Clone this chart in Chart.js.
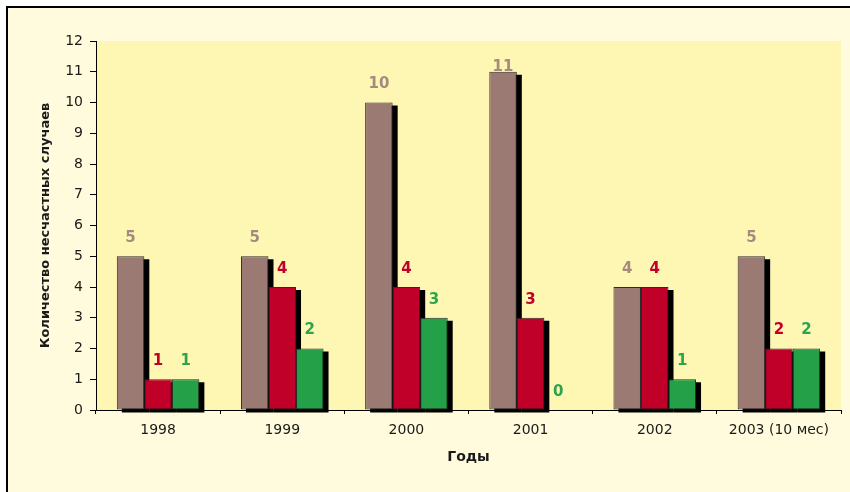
<!DOCTYPE html>
<html>
<head>
<meta charset="utf-8">
<script src="https://cdn.jsdelivr.net/npm/chart.js@4.4.0/dist/chart.umd.min.js"></script>
<style>
  html, body { margin: 0; padding: 0; background: #fff; }
  #chart { display: block; }
</style>
</head>
<body>
<canvas id="chart" width="850" height="492"></canvas>
<script>
// данные
const years = ["1998", "1999", "2000", "2001", "2002", "2003 (10 мес)"];
const seriesBrown = [5, 5, 10, 11, 4, 5];
const seriesRed = [1, 4, 4, 3, 4, 2];
const seriesGreen = [1, 2, 3, 0, 1, 2];
const yMin = 0, yMax = 12, yStep = 1;

const family = "'DejaVu Sans', Arial, sans-serif";

// фон, рамка и область построения
const background = {
  id: 'background',
  beforeDraw(chart) {
    const {ctx, width, height, chartArea: a} = chart;
    ctx.save();
    ctx.fillStyle = '#ffffff';
    ctx.fillRect(0, 0, width, height);
    ctx.fillStyle = '#fffbdc';
    ctx.fillRect(8, 8, width - 8, height - 8);
    ctx.strokeStyle = '#000';
    ctx.lineWidth = 2;
    ctx.beginPath();
    ctx.moveTo(7, height);
    ctx.lineTo(7, 7);
    ctx.lineTo(width, 7);
    ctx.stroke();
    ctx.fillStyle = '#fef7b4';
    ctx.fillRect(a.left, a.top, a.right - a.left, a.bottom - a.top);
    ctx.restore();
  }
};

// тени у столбиков
const barShadow = {
  id: 'barShadow',
  beforeDatasetsDraw(chart) {
    const ctx = chart.ctx;
    ctx.save();
    ctx.fillStyle = '#000';
    chart.data.datasets.forEach((ds, i) => {
      chart.getDatasetMeta(i).data.forEach(bar => {
        const {x, y, base, width} = bar.getProps(['x', 'y', 'base', 'width'], true);
        if (base - y < 0.5) return;
        ctx.fillRect(x - width / 2 + 5, y + 3, width, base - y);
      });
    });
    ctx.restore();
  }
};

// подписи значений
const valueLabels = {
  id: 'valueLabels',
  afterDatasetsDraw(chart) {
    const ctx = chart.ctx;
    const top = chart.chartArea.top;
    ctx.save();
    ctx.font = "bold 15px " + family;
    ctx.textAlign = 'center';
    ctx.textBaseline = 'middle';
    chart.data.datasets.forEach((ds, i) => {
      ctx.fillStyle = ds.labelColor;
      chart.getDatasetMeta(i).data.forEach((bar, j) => {
        const ly = Math.max(bar.y - 18, top + 26);
        ctx.fillText(ds.data[j], bar.x, ly);
      });
    });
    ctx.restore();
  }
};

function makeSet(data, color, labelColor) {
  return {
    data: data,
    backgroundColor: color,
    borderColor: '#2b2b2b',
    borderWidth: 1,
    borderSkipped: false,
    labelColor: labelColor,
    categoryPercentage: 0.665,
    barPercentage: 1
  };
}

new Chart(document.getElementById('chart').getContext('2d'), {
  type: 'bar',
  data: {
    labels: years,
    datasets: [
      makeSet(seriesBrown, '#9a7a72', '#a58a7e'),
      makeSet(seriesRed, '#c00028', '#c00028'),
      makeSet(seriesGreen, '#24a048', '#2ea34e')
    ]
  },
  options: {
    responsive: false,
    animation: false,
    layout: { padding: { left: 30, top: 41, right: 9, bottom: 0 } },
    plugins: {
      legend: { display: false },
      tooltip: { enabled: false }
    },
    scales: {
      x: {
        afterFit(s) { s.height = 82; },
        grid: { offset: true, drawOnChartArea: false, tickLength: 4, color: '#000' },
        border: { color: '#000', width: 1 },
        ticks: { font: { size: 14, family: family }, color: '#1a1a1a', padding: 8, maxRotation: 0 },
        title: {
          display: true, text: 'Годы', color: '#1a1a1a',
          font: { size: 14, weight: 'bold', family: family },
          padding: { top: 0, bottom: 26 }
        }
      },
      y: {
        min: yMin,
        max: yMax,
        afterFit(s) { s.width = 66; },
        grid: { drawOnChartArea: false, tickLength: 6, color: '#000' },
        border: { color: '#000', width: 1 },
        ticks: { stepSize: yStep, font: { size: 14, family: family }, color: '#1a1a1a', padding: 7 },
        title: {
          display: true, text: 'Количество несчастных случаев', color: '#1a1a1a',
          font: { size: 13, weight: 'bold', family: family },
          padding: { top: 8, bottom: 0 }
        }
      }
    }
  },
  plugins: [background, barShadow, valueLabels]
});
</script>
</body>
</html>
